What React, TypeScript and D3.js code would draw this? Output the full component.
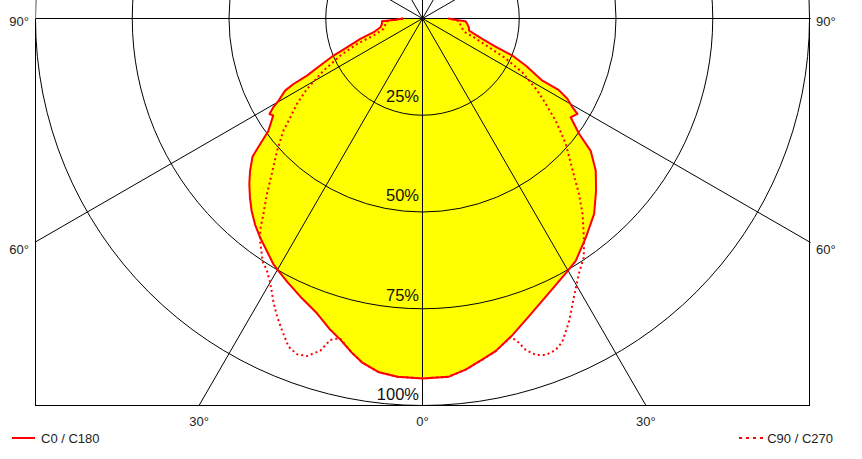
import React from "react";
import * as d3 from "d3";

// Grid
const levels = [25, 50, 75, 100];
const spokeAngles = [-60, -30, 0, 30, 60, 90];
const sideLabels = [
  { text: "90°", angle: 90, dy: 7.5 },
  { text: "60°", angle: 60, dy: 12 },
];
const bottomLabels = [
  { text: "30°", angle: -30 },
  { text: "0°", angle: 0 },
  { text: "30°", angle: 30 },
];
const legendItems = ["C0 / C180", "C90 / C270"];

// [gamma (deg from nadir), intensity %]
const c180: [number, number][] = [
  [0, 93], [4, 92.8], [7, 92.1], [10, 90.2], [12, 88.2], [14.3, 85.7], [16.5, 83.9],
  [19.7, 80.9], [23.7, 78.5], [27, 76.6], [29.5, 75.2], [31.2, 74.3], [33.8, 72.3],
  [36.5, 70.5], [39.1, 68.6], [41.6, 66.5], [43.9, 64.3], [46.3, 61.9], [48.5, 59.5],
  [50.9, 56.6], [52.3, 53], [53.9, 49.3], [55.5, 47.5], [57, 46], [58, 46.6],
  [59.3, 44.8], [60.3, 42.8], [62.3, 40.1], [63.1, 37.4], [63.7, 33.3], [65.3, 29.1],
  [67.4, 24.9], [69.1, 20.9], [71.9, 16.9], [74.3, 13.1], [78.3, 11.1], [82, 10.6],
  [86.2, 10.5], [86.8, 8.2], [87.5, 6.8], [89, 5.8], [90, 5],
];
const c0: [number, number][] = [
  [0, 93], [4.2, 92.8], [7, 91.4], [9.9, 89.5], [12.4, 88], [15.9, 85], [19.7, 81.7],
  [24.7, 78.1], [29.8, 75.3], [32.3, 74.1], [36.7, 70.6], [41.3, 67.2], [45.2, 63.2],
  [48.7, 59.6], [51.8, 55.3], [53.6, 50.3], [55.7, 46.9], [56.3, 46], [58.4, 47],
  [59.4, 45], [61, 42.8], [62.3, 39.7], [62.6, 34.9], [65.5, 29.3], [67.6, 25.1],
  [69, 20.2], [71.2, 16.3], [75.5, 12.4], [79.4, 12.2], [84, 11.5], [86.4, 11.1],
  [87.5, 8.8], [89, 7.5], [90, 6.7],
];
const c270: [number, number][] = [
  [0, 93], [4, 92.8], [7, 92.1], [10, 90.2], [12, 88.2], [14.5, 85.3], [16, 86.4],
  [17.1, 89.8], [18.9, 92.2], [20.5, 92.6], [22.2, 91.6], [24.3, 88.3], [26, 85.7],
  [27.6, 83], [29.9, 78.9], [31.8, 76.4], [33.3, 75.2], [36.1, 71.2], [37.5, 68.9],
  [39.1, 65.2], [41.5, 60.7], [44.1, 56], [47.7, 50.8], [51.1, 46.2], [52.1, 44.4],
  [55.8, 39.2], [58.6, 35], [62.2, 28.9], [65.7, 23.3], [68.8, 18.1], [70.8, 13.4],
  [75.1, 10.4], [80, 9.8], [84, 9.6], [87, 8.5], [90, 5],
];
const c90: [number, number][] = [
  [0, 93], [4.2, 92.8], [7, 91.4], [10, 89.5], [12.4, 88], [15.5, 85.4], [16.4, 87],
  [17.3, 89.7], [18.6, 91.7], [20.1, 92.6], [21.9, 92.3], [23.4, 91], [25.8, 87],
  [28.6, 81.8], [31.6, 77.2], [34, 74.5], [36, 71], [39.3, 65.3], [41.7, 60.8],
  [44.6, 55.3], [48.8, 49.2], [50.3, 46.7], [52.5, 43.4], [55.3, 38.7], [57.9, 35],
  [61.7, 29.3], [64.6, 23.3], [66.6, 18.7], [70, 14.1], [72.5, 11.2], [80, 10],
  [86, 9.5], [90, 6.7],
];

const FONT = "'Liberation Sans', Arial, sans-serif";

export default function App() {
  const W = 862, H = 459;
  const CX = 422.5, CY = 18.5, R = 387;
  const left = CX - R, right = CX + R, bottom = CY + R;
  const rs = d3.scaleLinear().domain([0, 100]).range([0, R]);
  const rad = (g: number) => (g * Math.PI) / 180;

  const toPts = (l: [number, number][], r: [number, number][]) => [
    ...l.slice().reverse().map(([g, v]) => [Math.PI + rad(g), rs(v)] as [number, number]),
    ...r.map(([g, v]) => [Math.PI - rad(g), rs(v)] as [number, number]),
  ];
  const radial = d3
    .lineRadial<[number, number]>()
    .angle((d) => d[0])
    .radius((d) => d[1]);
  const solidD = radial(toPts(c180, c0)) || "";
  const dotD = radial(toPts(c270, c90)) || "";

  const L = 800;
  return (
    <svg
      width={W}
      height={H}
      style={{ position: "absolute", left: 0, top: 0, background: "#fff" }}
      fontFamily={FONT}
    >
      <defs>
        <clipPath id="plotClip">
          <rect x={left} y={0} width={right - left + 1} height={bottom + 0.5} />
        </clipPath>
      </defs>
      <rect x={0} y={0} width={W} height={H} fill="#fff" />
      <g transform={`translate(${CX},${CY})`}>
        <path d={solidD + "Z"} fill="#ffff00" stroke="none" />
      </g>
      <g clipPath="url(#plotClip)" stroke="#000" strokeWidth={1} fill="none">
        {levels.map((lv) => (
          <circle key={lv} cx={CX} cy={CY} r={rs(lv)} />
        ))}
        {spokeAngles.map((a) => {
          const dx = Math.sin(rad(a)) * L, dy = Math.cos(rad(a)) * L;
          return (
            <line
              key={a}
              x1={CX - dx}
              y1={CY - dy}
              x2={CX + dx}
              y2={CY + dy}
              shapeRendering={a % 90 === 0 ? "crispEdges" : undefined}
            />
          );
        })}
      </g>
      <path
        d={`M${left},${CY}V${bottom}H${right}V${CY}`}
        stroke="#000"
        strokeWidth={1}
        fill="none"
        shapeRendering="crispEdges"
      />
      <g transform={`translate(${CX},${CY})`} fill="none" stroke="#ff0000" strokeWidth={2}>
        <path d={dotD} strokeDasharray="2,3" />
        <path d={solidD} strokeLinejoin="round" />
      </g>
      {levels.map((lv, i) => (
        <text
          key={lv}
          x={CX - 3.5}
          y={CY + rs(lv) - 16.3 + 2.8 * (i + 1)}
          textAnchor="end"
          fontSize={16.5}
          fill="#111"
        >
          {lv}%
        </text>
      ))}
      {sideLabels.map((s) => {
        const y = CY + R / Math.tan(rad(s.angle)) + s.dy;
        return (
          <g key={s.text}>
            <text x={left - 6.5} y={y} textAnchor="end" fontSize={13} fill="#222">
              {s.text}
            </text>
            <text x={right + 6.5} y={y} textAnchor="start" fontSize={13} fill="#222">
              {s.text}
            </text>
          </g>
        );
      })}
      {bottomLabels.map((b, i) => (
        <text
          key={i}
          x={CX + R * Math.tan(rad(b.angle))}
          y={bottom + 20.5}
          textAnchor="middle"
          fontSize={13}
          fill="#222"
        >
          {b.text}
        </text>
      ))}
      <line x1={12} x2={35} y1={438} y2={438} stroke="#ff0000" strokeWidth={2} />
      <text x={41} y={443} fontSize={13} fill="#222">
        {legendItems[0]}
      </text>
      <line
        x1={739}
        x2={763}
        y1={438}
        y2={438}
        stroke="#ff0000"
        strokeWidth={2}
        strokeDasharray="3,4"
      />
      <text x={833} y={443} fontSize={13} fill="#222" textAnchor="end">
        {legendItems[1]}
      </text>
    </svg>
  );
}
